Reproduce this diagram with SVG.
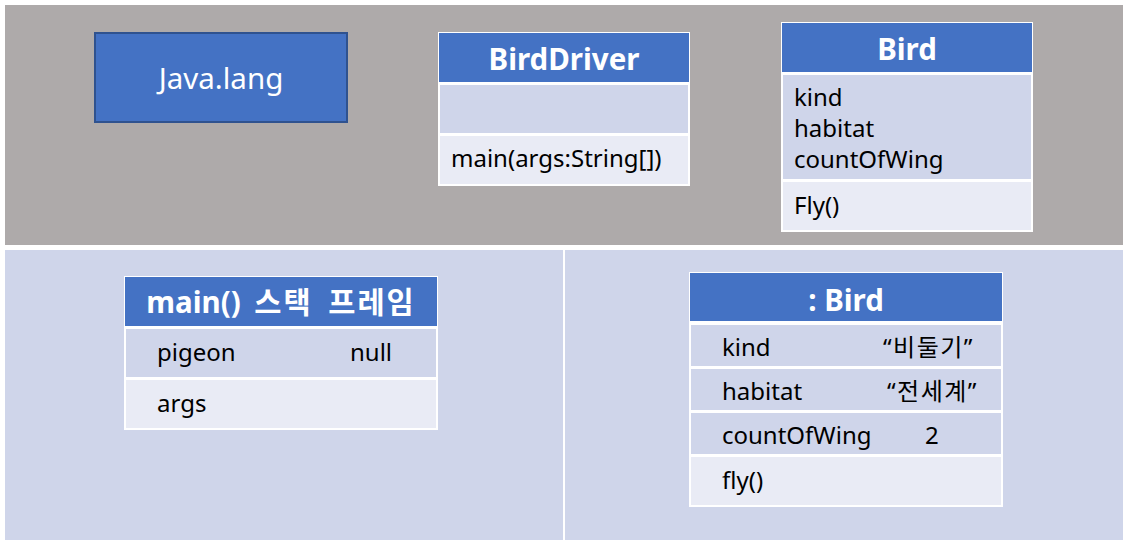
<svg xmlns="http://www.w3.org/2000/svg" width="1127" height="545" viewBox="0 0 1127 545">
<style>
text{font-family:"Noto Sans","Noto Sans CJK KR",sans-serif;fill:#000;font-size:24px}
.hd{fill:#4472C4}
.r1{fill:#CFD5EA;stroke:#fff;stroke-width:2}
.r2{fill:#E9EBF5;stroke:#fff;stroke-width:2}
.ht{fill:#fff;font-weight:bold;font-size:29.5px;text-anchor:middle}
.ko{letter-spacing:1.5px}
</style>
<rect width="1127" height="545" fill="#fff"/>
<g id="panels">
<rect x="5" y="5" width="1118" height="240" fill="#AEAAAA"/>
<rect x="5" y="250" width="558" height="290" fill="#CFD5EA"/>
<rect x="565" y="250" width="558" height="290" fill="#CFD5EA"/>
</g>
<g id="javalang">
<rect x="95" y="33" width="252" height="89" fill="#4472C4" stroke="#2F528F" stroke-width="2"/>
<text x="221" y="89" style="fill:#fff;font-size:29.5px;text-anchor:middle">Java.lang</text>
</g>
<g id="birddriver">
<rect x="438" y="32" width="252" height="154" fill="#fff"/>
<rect class="hd" x="439" y="33" width="250" height="49"/>
<rect class="r1" x="439" y="84" width="250" height="50"/>
<rect class="r2" x="439" y="135" width="250" height="50"/>
<text class="ht" x="564" y="70">BirdDriver</text>
<text x="451" y="167">main(args:String[])</text>
</g>
<g id="bird">
<rect x="781" y="22" width="252" height="210" fill="#fff"/>
<rect class="hd" x="782" y="23" width="250" height="49"/>
<rect class="r1" x="782" y="74" width="250" height="106"/>
<rect class="r2" x="782" y="181" width="250" height="50"/>
<text class="ht" x="907" y="60">Bird</text>
<text x="794" y="106">kind</text>
<text x="794" y="137">habitat</text>
<text x="794" y="168">countOfWing</text>
<text x="794" y="214">Fly()</text>
</g>
<g id="stackframe">
<rect x="124" y="276" width="314" height="154" fill="#fff"/>
<rect class="hd" x="125" y="277" width="312" height="49"/>
<rect class="r1" x="125" y="328" width="312" height="50"/>
<rect class="r2" x="125" y="379" width="312" height="50"/>
<text class="ht" x="281" y="313" style="word-spacing:6px">main() <tspan style="letter-spacing:2px">스택 프레임</tspan></text>
<text x="157" y="361">pigeon</text>
<text x="350" y="361">null</text>
<text x="157" y="412">args</text>
</g>
<g id="birdinstance">
<rect x="689" y="272" width="314" height="235" fill="#fff"/>
<rect class="hd" x="690" y="273" width="312" height="48"/>
<rect class="r1" x="690" y="324" width="312" height="43"/>
<rect class="r1" x="690" y="368" width="312" height="43"/>
<rect class="r1" x="690" y="412" width="312" height="43"/>
<rect class="r2" x="690" y="456" width="312" height="50"/>
<text class="ht" x="846" y="311">: Bird</text>
<text x="722" y="356">kind</text>
<text class="ko" x="883" y="356">“비둘기”</text>
<text x="722" y="400">habitat</text>
<text class="ko" x="887" y="400">“전세계”</text>
<text x="722" y="444">countOfWing</text>
<text x="925" y="444">2</text>
<text x="722" y="489">fly()</text>
</g>
<g id="connectors"></g>
</svg>
